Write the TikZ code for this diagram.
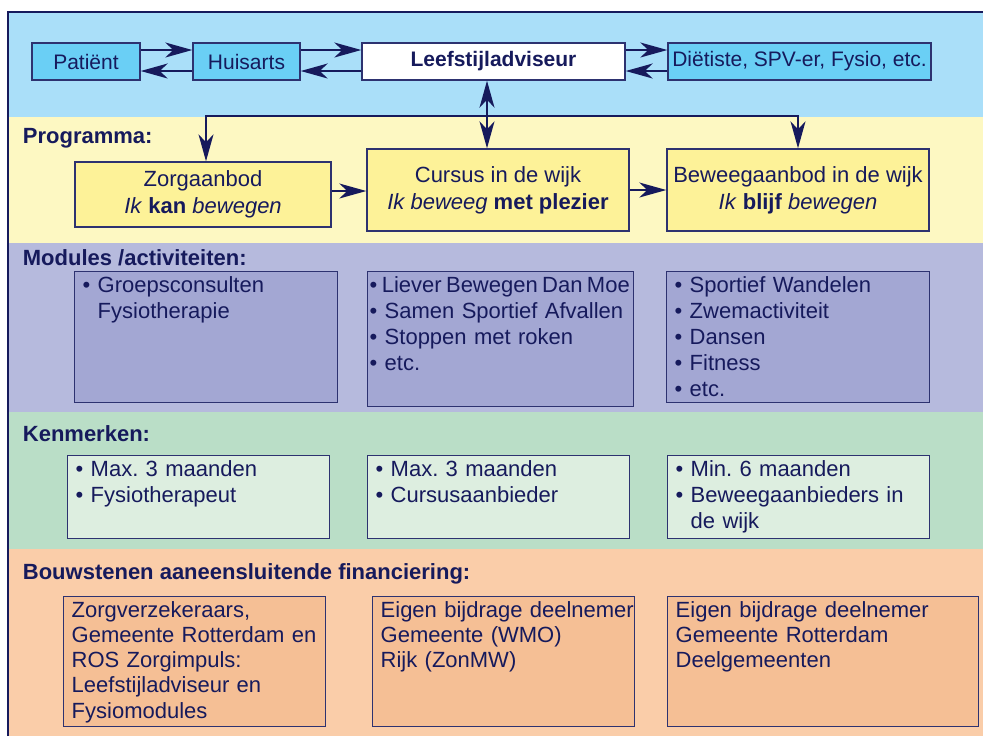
\documentclass[tikz,border=0pt]{standalone}
\usepackage{fontspec}
\setmainfont{Liberation Sans}
\usetikzlibrary{arrows.meta,positioning}
\frenchspacing

\definecolor{navy}{RGB}{22,26,92}
\definecolor{edge}{RGB}{45,50,112}
\definecolor{bandblue}{RGB}{170,223,249}
\definecolor{boxblue}{RGB}{106,207,245}
\definecolor{bandyellow}{RGB}{253,248,194}
\definecolor{boxyellow}{RGB}{253,242,152}
\definecolor{bandlilac}{RGB}{182,186,221}
\definecolor{boxlilac}{RGB}{163,167,211}
\definecolor{bandgreen}{RGB}{186,222,199}
\definecolor{boxgreen}{RGB}{221,238,224}
\definecolor{bandorange}{RGB}{250,205,169}
\definecolor{boxorange}{RGB}{245,191,149}

\newcommand{\bul}{•\ }
\newcommand{\hng}{\phantom{•\ }}

\tikzset{
	rowbox/.style={draw=edge, line width=0.7pt, text=navy, inner sep=0pt,
		minimum height=18.5pt, font=\fontsize{10.5}{13}\selectfont},
	progbox/.style={draw=edge, line width=0.7pt, fill=boxyellow, text=navy,
		align=center, inner sep=0pt, font=\fontsize{11}{13.5}\selectfont},
	listbox/.style 2 args={draw=edge, line width=0.7pt, text=navy,
		anchor=north west, align=left, inner xsep=4pt, inner ysep=2pt,
		text height=8.3pt, text width=#1-8pt, text depth=#2-12.3pt,
		font=\fontsize{11}{13}\selectfont},
	head/.style={anchor=base west, inner sep=0pt, text=navy,
		font=\fontsize{11}{13}\selectfont\bfseries}
}

\begin{document}
\begin{tikzpicture}[x=0.5pt, y=-0.5pt, line width=0.9pt,
	>={Stealth[length=13.5pt, width=7.5pt, inset=4pt]}]

		\useasboundingbox (0,0) rectangle (983,736);

		% bands
		\fill[bandblue]   (8,12)  rectangle (983,117);
		\fill[bandyellow] (8,117) rectangle (983,243);
		\fill[bandlilac]  (8,243) rectangle (983,412);
		\fill[bandgreen]  (8,412) rectangle (983,549);
		\fill[bandorange] (8,549) rectangle (983,736);
		\draw[navy, line width=0.9pt] (8,736) -- (8,12) -- (983,12);

		% top row
		\node[rowbox, fill=boxblue, minimum width=54pt] (pat) at (86,61.5) {Patiënt};
		\node[rowbox, fill=boxblue, minimum width=53.5pt] (hua) at (246.5,61.5) {Huisarts};
		\node[rowbox, fill=white, minimum width=131.5pt,
			font=\fontsize{10.5}{13}\selectfont\bfseries] (leef) at (493.5,61.5) {Leefstijladviseur};
		\node[rowbox, fill=boxblue, minimum width=131.5pt] (diet) at (799.5,61.5) {Diëtiste, SPV-er, Fysio, etc.};

		\draw[->, navy] ([yshift=5.75pt]pat.east) -- ([yshift=5.75pt]hua.west);
		\draw[->, navy] ([yshift=-4.75pt]hua.west) -- ([yshift=-4.75pt]pat.east);
		\draw[->, navy] ([yshift=5.75pt]hua.east) -- ([yshift=5.75pt]leef.west);
		\draw[->, navy] ([yshift=-4.75pt]leef.west) -- ([yshift=-4.75pt]hua.east);
		\draw[->, navy] ([yshift=5.75pt]leef.east) -- ([yshift=5.75pt]diet.west);
		\draw[->, navy] ([yshift=-4.75pt]diet.west) -- ([yshift=-4.75pt]leef.east);

		% programma
		\node[head] (lprog) at (22,143) {Programma:};
		\node[progbox, minimum width=128pt, minimum height=32.5pt] (zorg) at (203,194.5)
			{Zorgaanbod\\\textit{Ik} \textbf{kan} \textit{bewegen}};
		\node[progbox, minimum width=131pt, minimum height=41pt] (cur) at (498,190)
			{Cursus in de wijk\\\textit{Ik beweeg} \textbf{met plezier}};
		\node[progbox, minimum width=131pt, minimum height=41pt] (bew) at (798,190)
			{Beweegaanbod in de wijk\\\textit{Ik} \textbf{blijf} \textit{bewegen}};

		\coordinate (hub) at (487,116);
		\draw[<->, navy] (hub |- leef.south) -- (hub |- cur.north);
		\draw[->, navy] (hub) -| ([xshift=1.5pt]zorg.north);
		\draw[->, navy] (hub) -| (bew.north);
		\draw[->, navy] ([yshift=1.75pt]zorg.east) -- ([yshift=1.75pt]zorg.east -| cur.west);
		\draw[->, navy] (cur.east) -- (bew.west);

		% modules
		\node[head] (lmod) at (22,265) {Modules /activiteiten:};
		\node[listbox={131.5pt}{65.5pt}, fill=boxlilac] (mod1) at (74,271)
			{\bul Groepsconsulten\\\hng Fysiotherapie};
		\node[listbox={133pt}{67.5pt}, fill=boxlilac, inner xsep=1pt, text width=131pt] (mod2) at (367,271)
			{{\spaceskip=0.2em plus 0.05em \bul Liever Bewegen Dan Moe}\\\bul Samen Sportief Afvallen\\\bul Stoppen met roken\\\bul etc.};
		\node[listbox={131.5pt}{65.5pt}, fill=boxlilac] (mod3) at (666,271)
			{\bul Sportief Wandelen\\\bul Zwemactiviteit\\\bul Dansen\\\bul Fitness\\\bul etc.};

		% kenmerken
		\node[head] (lken) at (22,441) {Kenmerken:};
		\node[listbox={131pt}{41.5pt}, fill=boxgreen] (ken1) at (67,455)
			{\bul Max. 3 maanden\\\bul Fysiotherapeut};
		\node[listbox={131pt}{41.5pt}, fill=boxgreen] (ken2) at (367,455)
			{\bul Max. 3 maanden\\\bul Cursusaanbieder};
		\node[listbox={131pt}{41.5pt}, fill=boxgreen] (ken3) at (667,455)
			{\bul Min. 6 maanden\\\bul Beweegaanbieders in\\\hng de wijk};

		% financiering
		\node[head] (lbouw) at (22,579) {Bouwstenen aaneensluitende financiering:};
		\node[listbox={131pt}{65pt}, fill=boxorange, font=\fontsize{11}{12.6}\selectfont] (fin1) at (63,596)
			{Zorgverzekeraars,\\Gemeente Rotterdam en\\ROS Zorgimpuls:\\Leefstijladviseur en\\Fysiomodules};
		\node[listbox={131pt}{65pt}, fill=boxorange, font=\fontsize{11}{12.6}\selectfont] (fin2) at (372,596)
			{\mbox{Eigen bijdrage deelnemer}\\Gemeente (WMO)\\Rijk (ZonMW)};
		\node[listbox={155.5pt}{65pt}, fill=boxorange, font=\fontsize{11}{12.6}\selectfont] (fin3) at (667,596)
			{Eigen bijdrage deelnemer\\Gemeente Rotterdam\\Deelgemeenten};

	\end{tikzpicture}
\end{document}
